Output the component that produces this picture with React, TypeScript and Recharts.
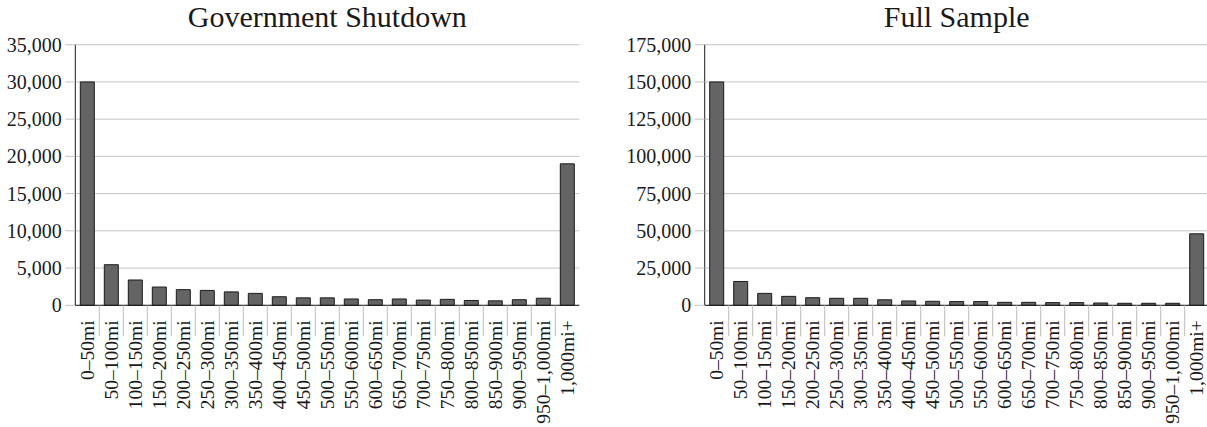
import React from "react";
import { BarChart, Bar, XAxis, YAxis, CartesianGrid } from "recharts";

// Distance bins shared by both panels
const distanceBins = [
  "0–50mi", "50–100mi", "100–150mi", "150–200mi", "200–250mi", "250–300mi",
  "300–350mi", "350–400mi", "400–450mi", "450–500mi", "500–550mi", "550–600mi",
  "600–650mi", "650–700mi", "700–750mi", "750–800mi", "800–850mi", "850–900mi",
  "900–950mi", "950–1,000mi", "1,000mi+",
];

// Counts per bin during the government shutdown
const shutdownCounts = [
  30000, 5450, 3400, 2450, 2100, 2000, 1800, 1600, 1150, 1000, 1000,
  850, 750, 850, 700, 800, 650, 600, 750, 950, 19000,
];

// Counts per bin over the full sample
const fullSampleCounts = [
  150000, 16000, 8000, 6000, 5100, 4700, 4700, 3700, 2900, 2700, 2500,
  2500, 2000, 2000, 1800, 1800, 1550, 1350, 1350, 1350, 48000,
];

const shutdownTicks = [0, 5000, 10000, 15000, 20000, 25000, 30000, 35000];
const fullSampleTicks = [0, 25000, 50000, 75000, 100000, 125000, 150000, 175000];

const FONT = "'Liberation Serif', 'Times New Roman', serif";
const INK = "#1a1a1a";
const GRID = "#c4c4c4";
const FRAME = "#333";

const fmt = (v: number) => v.toLocaleString("en-US");

function BandTick(props: any) {
  const { x, y, payload, index } = props;
  const half = typeof payload?.offset === "number" ? payload.offset : 12;
  return (
    <g>
      {index > 0 && (
        <line x1={x - half} x2={x - half} y1={y} y2={y + 31} stroke="#bdbdbd" strokeWidth={1} />
      )}
      <text
        transform={`translate(${x},${y + 15}) rotate(-90)`}
        textAnchor="end"
        dy="0.34em"
        fontSize={19.5}
        fill={INK}
        fontFamily={FONT}
      >
        {payload.value}
      </text>
    </g>
  );
}

type PanelProps = {
  title: string;
  values: number[];
  ticks: number[];
  left: number;
  plotLeft: number;
};

const PLOT_WIDTH = 504;
const RIGHT_PAD = 20.7;

function Panel({ title, values, ticks, left, plotLeft }: PanelProps) {
  const data = distanceBins.map((bin, i) => ({ bin, count: values[i] }));
  const max = ticks[ticks.length - 1];
  const yAxisWidth = plotLeft - left;
  const width = yAxisWidth + PLOT_WIDTH + RIGHT_PAD;
  const height = 427;
  const margin = { top: 44.7, right: RIGHT_PAD, bottom: 0, left: 0 };
  const plotCenter = yAxisWidth + PLOT_WIDTH / 2;
  return (
    <div style={{ position: "absolute", left, top: 0, width, height }}>
      <BarChart width={width} height={height} data={data} margin={margin} barCategoryGap={0}>
        <CartesianGrid vertical={false} stroke={GRID} strokeWidth={1} />
        <XAxis
          dataKey="bin"
          interval={0}
          height={121.7}
          tickSize={0}
          tickMargin={0}
          tickLine={false}
          axisLine={{ stroke: INK, strokeWidth: 1 }}
          tick={<BandTick />}
        />
        <XAxis
          xAxisId="top"
          dataKey="bin"
          orientation="top"
          height={0}
          tick={false}
          tickLine={false}
          axisLine={{ stroke: FRAME, strokeWidth: 1 }}
        />
        <YAxis
          domain={[0, max]}
          ticks={ticks}
          interval={0}
          width={yAxisWidth}
          tickSize={10}
          tickMargin={3.5}
          tickFormatter={fmt}
          tickLine={{ stroke: GRID }}
          axisLine={{ stroke: INK, strokeWidth: 1 }}
          tick={{ fill: INK, fontSize: 20, fontFamily: FONT }}
        />
        <YAxis
          yAxisId="right"
          orientation="right"
          domain={[0, max]}
          width={0}
          tick={false}
          tickLine={false}
          axisLine={{ stroke: FRAME, strokeWidth: 1 }}
        />
        <Bar
          dataKey="count"
          fill="#646464"
          stroke={INK}
          strokeWidth={1}
          barSize={14}
          isAnimationActive={false}
        />
      </BarChart>
      <svg
        width={width}
        height={40}
        style={{ position: "absolute", left: 0, top: 0, overflow: "visible", pointerEvents: "none" }}
      >
        <text x={plotCenter} y={27.3} textAnchor="middle" fontSize={30} fill={INK} fontFamily={FONT}>
          {title}
        </text>
      </svg>
    </div>
  );
}

export default function App() {
  return (
    <div
      style={{
        position: "fixed",
        left: 0,
        top: 0,
        width: 1207,
        height: 427,
        overflow: "hidden",
        background: "#fff",
      }}
    >
      <Panel title="Government Shutdown" values={shutdownCounts} ticks={shutdownTicks} left={0} plotLeft={75.3} />
      <Panel title="Full Sample" values={fullSampleCounts} ticks={fullSampleTicks} left={600} plotLeft={704.7} />
    </div>
  );
}
